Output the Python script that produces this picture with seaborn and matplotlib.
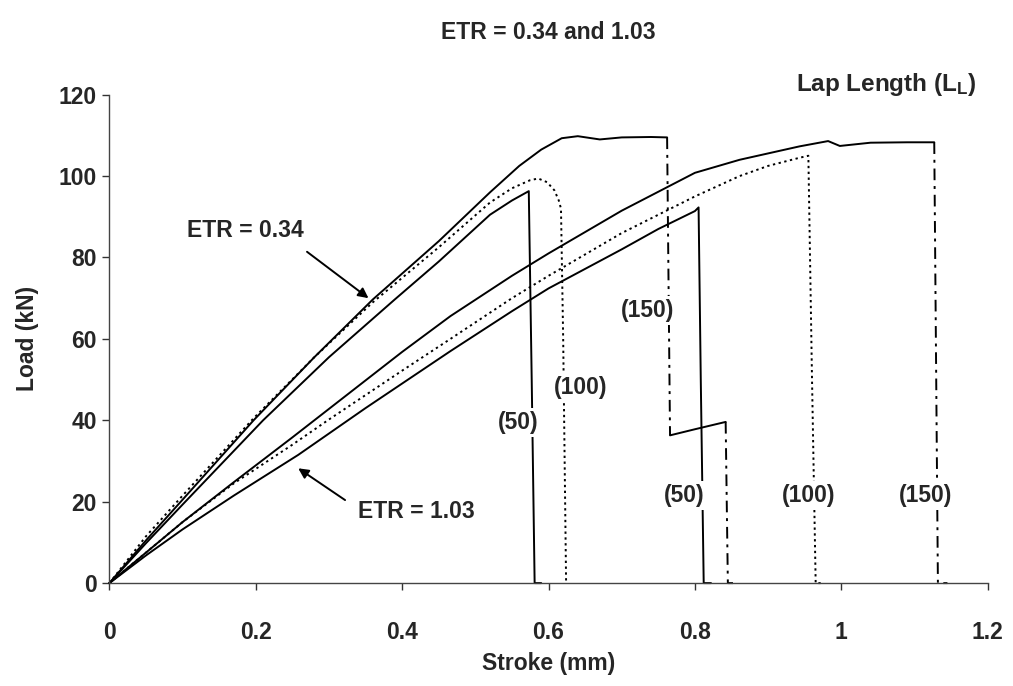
import matplotlib
matplotlib.use("Agg")
import matplotlib.pyplot as plt
import seaborn as sns
import pandas as pd

# ---------------- data ----------------
# ETR = 0.34
etr034_L50_x = [0, 0.05, 0.10, 0.21, 0.30, 0.39, 0.45, 0.52, 0.55, 0.573, 0.577, 0.581, 0.59]
etr034_L50_y = [0, 9.8, 19.3, 40.0, 55.5, 69.7, 79.0, 90.5, 94.0, 96.3, 50.0, 0, 0]

etr034_L100_x = [0, 0.05, 0.10, 0.197, 0.28, 0.36, 0.45, 0.52, 0.55, 0.575, 0.586, 0.598,
                 0.608, 0.614, 0.617, 0.620, 0.624]
etr034_L100_y = [0, 11.5, 21.5, 40.5, 55.5, 69.0, 82.5, 93.5, 97.0, 99.0, 99.4, 98.5,
                 96.5, 94.0, 92.0, 60.0, 0]

etr034_L150_x = [0, 0.05, 0.10, 0.197, 0.28, 0.36, 0.45, 0.52, 0.56, 0.59, 0.618, 0.64,
                 0.67, 0.70, 0.74, 0.762]
etr034_L150_y = [0, 10.5, 20.5, 40.0, 55.5, 69.7, 84.0, 96.0, 102.5, 106.5, 109.3, 109.8,
                 109.0, 109.5, 109.6, 109.5]
etr034_L150_drop1_x = [0.762, 0.766]
etr034_L150_drop1_y = [109.5, 36.3]
etr034_L150_resid_x = [0.766, 0.80, 0.842]
etr034_L150_resid_y = [36.3, 37.8, 39.6]
etr034_L150_drop2_x = [0.842, 0.845, 0.852]
etr034_L150_drop2_y = [39.6, 0, 0]

# ETR = 1.03
etr103_L50_x = [0, 0.05, 0.10, 0.17, 0.258, 0.35, 0.466, 0.55, 0.60, 0.70, 0.75, 0.80,
                0.805, 0.808, 0.812, 0.822]
etr103_L50_y = [0, 6.8, 13.2, 21.5, 31.5, 43.0, 57.0, 66.8, 72.4, 82.0, 87.0, 91.4,
                92.3, 50.0, 0, 0]

etr103_L100_x = [0, 0.05, 0.10, 0.17, 0.25, 0.30, 0.40, 0.466, 0.55, 0.60, 0.70, 0.80,
                 0.861, 0.90, 0.943, 0.955, 0.960, 0.965, 0.972]
etr103_L100_y = [0, 7.5, 15.0, 24.5, 34.0, 40.2, 52.2, 60.0, 70.0, 75.5, 86.0, 95.0,
                 100.0, 102.5, 104.5, 105.0, 50.0, 0, 0]

etr103_L150_x = [0, 0.05, 0.10, 0.17, 0.25, 0.30, 0.40, 0.466, 0.55, 0.60, 0.70, 0.80,
                 0.861, 0.943, 0.982, 0.998, 1.04, 1.09, 1.127]
etr103_L150_y = [0, 7.5, 15.0, 24.8, 35.8, 42.8, 56.8, 65.6, 75.5, 81.0, 91.5, 100.8,
                 104.0, 107.3, 108.6, 107.4, 108.2, 108.3, 108.3]
etr103_L150_drop_x = [1.127, 1.132, 1.145]
etr103_L150_drop_y = [108.3, 0, 0]

x_ticks = [0, 0.2, 0.4, 0.6, 0.8, 1.0, 1.2]
x_tick_labels = ["0", "0.2", "0.4", "0.6", "0.8", "1", "1.2"]
y_ticks = [0, 20, 40, 60, 80, 100, 120]
y_tick_labels = ["0", "20", "40", "60", "80", "100", "120"]

# ---------------- styling ----------------
sns.set_theme(style="ticks")
plt.rcParams["font.family"] = ["Liberation Sans", "DejaVu Sans"]
plt.rcParams["font.weight"] = "bold"
plt.rcParams["mathtext.fontset"] = "custom"
plt.rcParams["mathtext.rm"] = "Liberation Sans:bold"
plt.rcParams["mathtext.it"] = "Liberation Sans:bold"
plt.rcParams["mathtext.bf"] = "Liberation Sans:bold"

FS = 16.5
LW = 1.4
SOLID = "-"
DOTTED = (0, (1.2, 1.8))
DASHDOT = (0, (6, 3, 1.5, 3))

fig = plt.figure(figsize=(10.13, 6.86), dpi=100)
ax = fig.add_axes([0.108, 0.150, 0.867, 0.712])


def draw(xs, ys, ls):
    df = pd.DataFrame({"x": xs, "y": ys})
    sns.lineplot(data=df, x="x", y="y", ax=ax, sort=False, estimator=None,
                 color="black", linewidth=LW, linestyle=ls, clip_on=False)


draw(etr034_L50_x, etr034_L50_y, SOLID)
draw(etr034_L100_x, etr034_L100_y, DOTTED)
draw(etr034_L150_x, etr034_L150_y, SOLID)
draw(etr034_L150_drop1_x, etr034_L150_drop1_y, DASHDOT)
draw(etr034_L150_resid_x, etr034_L150_resid_y, SOLID)
draw(etr034_L150_drop2_x, etr034_L150_drop2_y, DASHDOT)

draw(etr103_L50_x, etr103_L50_y, SOLID)
draw(etr103_L100_x, etr103_L100_y, DOTTED)
draw(etr103_L150_x, etr103_L150_y, SOLID)
draw(etr103_L150_drop_x, etr103_L150_drop_y, DASHDOT)

ax.set_xlim(0, 1.2)
ax.set_ylim(0, 120)
ax.set_xticks(x_ticks)
ax.set_xticklabels(x_tick_labels, fontsize=FS, fontweight="bold")
ax.set_yticks(y_ticks)
ax.set_yticklabels(y_tick_labels, fontsize=FS, fontweight="bold")
ax.tick_params(axis="both", direction="out", length=5, width=1, color="#333333")
ax.tick_params(axis="x", pad=22)
ax.tick_params(axis="y", pad=4)
sns.despine(ax=ax)
for sp in ("left", "bottom"):
    ax.spines[sp].set_color("#444444")
    ax.spines[sp].set_linewidth(1.0)

ax.set_xlabel("Stroke (mm)", fontsize=FS, fontweight="bold", labelpad=6)
ax.set_ylabel("Load (kN)", fontsize=FS, fontweight="bold", labelpad=14)
ax.set_title("ETR = 0.34 and 1.03", fontsize=FS, fontweight="bold", pad=40)

# annotations
ax.text(1.185, 122.5, r"Lap Length (L$_\mathrm{L}$)", fontsize=17.5, fontweight="bold",
        ha="right", va="center", clip_on=False)

ax.text(0.186, 86.7, "ETR = 0.34", fontsize=FS, fontweight="bold", ha="center", va="center")
ax.annotate("", xy=(0.354, 70.0), xytext=(0.270, 81.4),
            arrowprops=dict(arrowstyle="-|>", color="black", lw=1.4,
                            mutation_scale=15, shrinkA=0, shrinkB=0))
ax.text(0.420, 17.5, "ETR = 1.03", fontsize=FS, fontweight="bold", ha="center", va="center")
ax.annotate("", xy=(0.258, 28.2), xytext=(0.322, 20.4),
            arrowprops=dict(arrowstyle="-|>", color="black", lw=1.4,
                            mutation_scale=15, shrinkA=0, shrinkB=0))

box = dict(facecolor="white", edgecolor="none", pad=2)
label_pos = [(0.558, 39.5, "(50)"), (0.644, 48.0, "(100)"), (0.735, 67.0, "(150)"),
             (0.785, 21.5, "(50)"), (0.956, 21.5, "(100)"), (1.115, 21.5, "(150)")]
for lx, ly, lt in label_pos:
    ax.text(lx, ly, lt, fontsize=FS, fontweight="bold", ha="center", va="center",
            bbox=box, zorder=5)

fig.savefig("out.png", dpi=100, facecolor="white")
